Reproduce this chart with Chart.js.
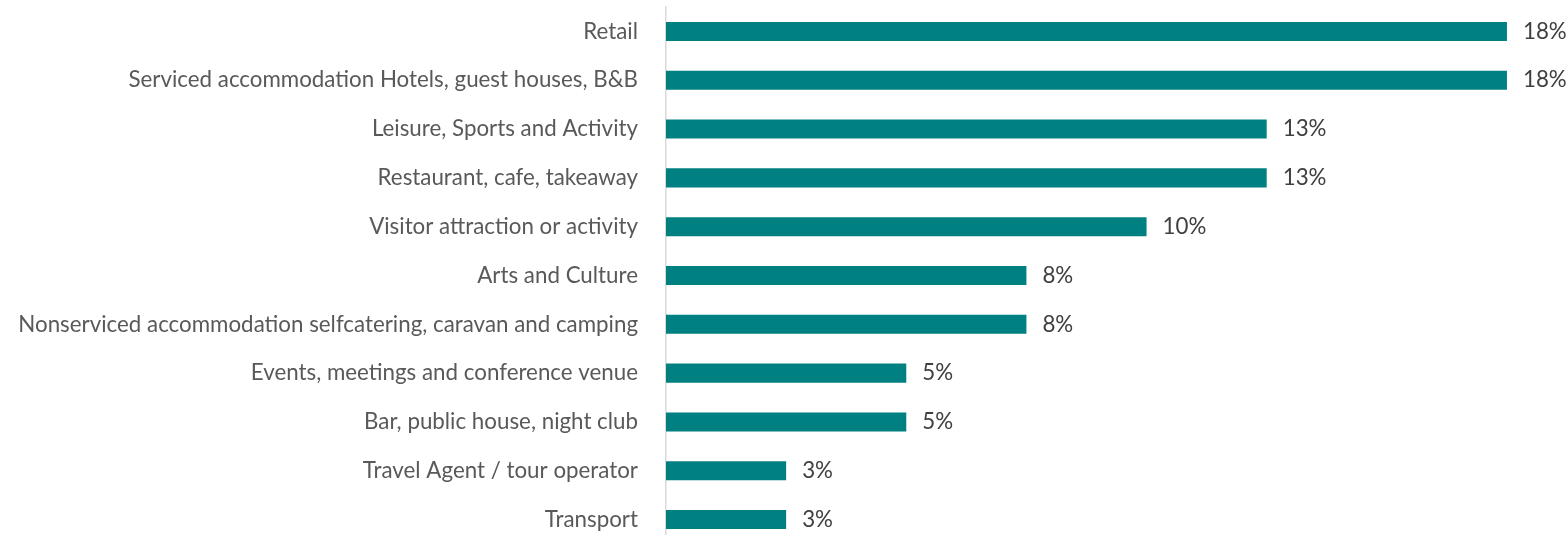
<!DOCTYPE html>
<html>
<head>
<meta charset="utf-8">
<script src="https://cdn.jsdelivr.net/npm/chart.js@4/dist/chart.umd.min.js"></script>
<style>
  html, body { margin: 0; padding: 0; background: #ffffff; overflow: hidden; }
  #wrap { position: relative; width: 1568px; height: 545px; }
</style>
</head>
<body>
<div id="wrap"><canvas id="c" width="1568" height="545"></canvas></div>
<script>
const categories = [
  'Retail',
  'Serviced accommodation Hotels, guest houses, B&B',
  'Leisure, Sports and Activity',
  'Restaurant, cafe, takeaway',
  'Visitor attraction or activity',
  'Arts and Culture',
  'Nonserviced accommodation selfcatering, caravan and camping',
  'Events, meetings and conference venue',
  'Bar, public house, night club',
  'Travel Agent / tour operator',
  'Transport'
];
const shares = [17.5, 17.5, 12.5, 12.5, 10, 7.5, 7.5, 5, 5, 2.5, 2.5];

const FONT_FAMILY = 'Lato, "Open Sans", sans-serif';
// choose font size so the longest label spans about the same width as the reference
const mctx = document.createElement('canvas').getContext('2d');
function widthAt(size, text) { mctx.font = size + 'px ' + FONT_FAMILY; return mctx.measureText(text).width; }
const longest = categories.reduce((a, b) => widthAt(20, a) >= widthAt(20, b) ? a : b);
const fontSize = Math.max(14, Math.min(26, 20 * 620 / widthAt(20, longest)));

const valueLabelPlugin = {
  id: 'valueLabels',
  afterDatasetsDraw(chart) {
    const ctx = chart.ctx;
    const meta = chart.getDatasetMeta(0);
    ctx.save();
    ctx.font = fontSize + 'px ' + FONT_FAMILY;
    ctx.fillStyle = '#404040';
    ctx.textAlign = 'left';
    ctx.textBaseline = 'middle';
    meta.data.forEach((bar, i) => {
      ctx.fillText(Math.round(shares[i]) + '%', bar.x + 16, bar.y);
    });
    ctx.restore();
  }
};

new Chart(document.getElementById('c'), {
  type: 'bar',
  data: {
    labels: categories,
    datasets: [{
      data: shares,
      backgroundColor: '#008080',
      borderWidth: 0,
      categoryPercentage: 1,
      barPercentage: 0.39
    }]
  },
  options: {
    indexAxis: 'y',
    responsive: false,
    animation: false,
    layout: { padding: { top: 7, bottom: 1, left: 0, right: 37 } },
    plugins: { legend: { display: false }, tooltip: { enabled: false } },
    scales: {
      x: {
        display: false,
        min: 0,
        max: 18
      },
      y: {
        grid: { display: false, drawTicks: false },
        border: { display: true, color: '#d9d9d9', width: 1.5 },
        ticks: {
          color: '#595959',
          padding: 28,
          font: { family: FONT_FAMILY, size: fontSize }
        },
        afterFit(scale) {
          scale.width = 666;
          scale.paddingTop = 0;
          scale.paddingBottom = 0;
        }
      }
    }
  },
  plugins: [valueLabelPlugin]
});
</script>
</body>
</html>
